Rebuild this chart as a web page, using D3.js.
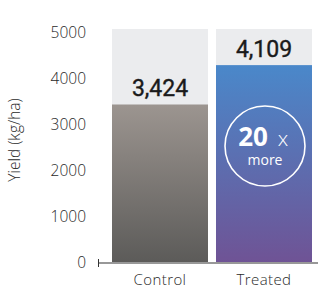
<!DOCTYPE html>
<html>
<head>
<meta charset="utf-8">
<script src="https://cdn.jsdelivr.net/npm/d3@7"></script>
<style>
  body { margin: 0; background: #fff; }
  svg { display: block; }
</style>
</head>
<body>
<svg id="chart" width="318" height="288"></svg>
<script>
// data
let categories = ["Control", "Treated"];
let barValues = [3424, 4280];          // bar heights as drawn
let valueLabels = ["3,424", "4,109"];   // printed labels
let yTicks = [0, 1000, 2000, 3000, 4000, 5000];
let badgeNumber = "20";
let badgeUnit = "x";
let badgeWord = "more";

let fontTxt = "'Open Sans', 'Noto Sans', sans-serif";
let fontNum = "Roboto, 'Liberation Sans', sans-serif";

let svg = d3.select("#chart");

let y = d3.scaleLinear().domain([0, 5000]).range([262, 32]);
let x = d3.scaleBand().domain(categories).range([112, 312]).paddingInner(8 / 104).paddingOuter(0);

let defs = svg.append("defs");
let gradColors = [["#9c9590", "#5c5b59"], ["#4a88ca", "#6f5395"]];
gradColors.forEach((c, i) => {
	let g = defs.append("linearGradient")
		.attr("id", "grad" + i)
		.attr("x1", 0).attr("y1", 0).attr("x2", 0).attr("y2", 1);
	g.append("stop").attr("offset", "0%").attr("stop-color", c[0]);
	g.append("stop").attr("offset", "100%").attr("stop-color", c[1]);
});

// grey backgrounds
svg.selectAll("rect.bg")
	.data(categories).enter()
	.append("rect")
	.attr("class", "bg")
	.attr("x", d => x(d))
	.attr("y", y(5000) - 3)
	.attr("width", x.bandwidth())
	.attr("height", y(0) - y(5000) + 3)
	.attr("fill", "#ebecee");

// bars
svg.selectAll("rect.bar")
	.data(barValues).enter()
	.append("rect")
	.attr("class", "bar")
	.attr("x", (d, i) => x(categories[i]))
	.attr("y", d => y(d))
	.attr("width", x.bandwidth())
	.attr("height", d => y(0) - y(d))
	.attr("fill", (d, i) => "url(#grad" + i + ")");

// value labels
svg.selectAll("text.val")
	.data(barValues).enter()
	.append("text")
	.attr("class", "val")
	.attr("x", (d, i) => x(categories[i]) + x.bandwidth() / 2)
	.attr("y", d => y(d) - 8)
	.attr("text-anchor", "middle")
	.attr("font-family", fontNum)
	.attr("font-weight", 400)
	.attr("font-size", "23px")
	.attr("stroke", "#1a1a1a")
	.attr("stroke-width", 0.4)
	.attr("fill", "#1a1a1a")
	.text((d, i) => valueLabels[i]);

// y axis labels
svg.selectAll("text.tick")
	.data(yTicks).enter()
	.append("text")
	.attr("class", "tick")
	.attr("x", 86)
	.attr("y", d => y(d) + 5.5)
	.attr("text-anchor", "end")
	.attr("font-family", fontTxt)
	.attr("font-weight", 300)
	.attr("font-size", "15.5px")
	.attr("fill", "#2a2a2a")
	.text(d => d);

svg.append("text")
	.attr("transform", "translate(20,140) rotate(-90)")
	.attr("text-anchor", "middle")
	.attr("font-family", fontTxt)
	.attr("font-weight", 300)
	.attr("font-size", "15.5px")
	.attr("fill", "#2a2a2a")
	.text("Yield (kg/ha)");

// baseline axis
svg.append("line")
	.attr("x1", 98).attr("x2", 318)
	.attr("y1", y(0) + 1).attr("y2", y(0) + 1)
	.attr("stroke", "#333").attr("stroke-width", 1.2);
svg.append("line")
	.attr("x1", 98.5).attr("x2", 98.5)
	.attr("y1", y(0) - 3).attr("y2", y(0) + 5)
	.attr("stroke", "#333").attr("stroke-width", 1);

// category labels
svg.selectAll("text.cat")
	.data(categories).enter()
	.append("text")
	.attr("class", "cat")
	.attr("x", d => x(d) + x.bandwidth() / 2)
	.attr("y", 285)
	.attr("text-anchor", "middle")
	.attr("font-family", fontTxt)
	.attr("font-weight", 300)
	.attr("font-size", "15px")
	.attr("letter-spacing", "0.4px")
	.attr("fill", "#2a2a2a")
	.text(d => d);

// badge on the treated bar
let cx = x("Treated") + x.bandwidth() / 2 + 1;
let badge = svg.append("g").attr("transform", "translate(" + cx + ",146)");
badge.append("circle")
	.attr("r", 40)
	.attr("fill", "none")
	.attr("stroke", "#fff")
	.attr("stroke-width", 1.6);
badge.append("text")
	.attr("x", -12)
	.attr("y", 0)
	.attr("text-anchor", "middle")
	.attr("font-family", fontTxt)
	.attr("font-weight", 700)
	.attr("font-size", "26px")
	.attr("fill", "#fff")
	.text(badgeNumber);
badge.append("text")
	.attr("x", 18)
	.attr("y", 0)
	.attr("text-anchor", "middle")
	.attr("font-family", fontTxt)
	.attr("font-weight", 300)
	.attr("font-size", "21px")
	.attr("fill", "#fff")
	.text(badgeUnit);
badge.append("text")
	.attr("y", 19)
	.attr("text-anchor", "middle")
	.attr("font-family", fontTxt)
	.attr("font-weight", 400)
	.attr("font-size", "14px")
	.attr("fill", "#fff")
	.text(badgeWord);
</script>
</body>
</html>
